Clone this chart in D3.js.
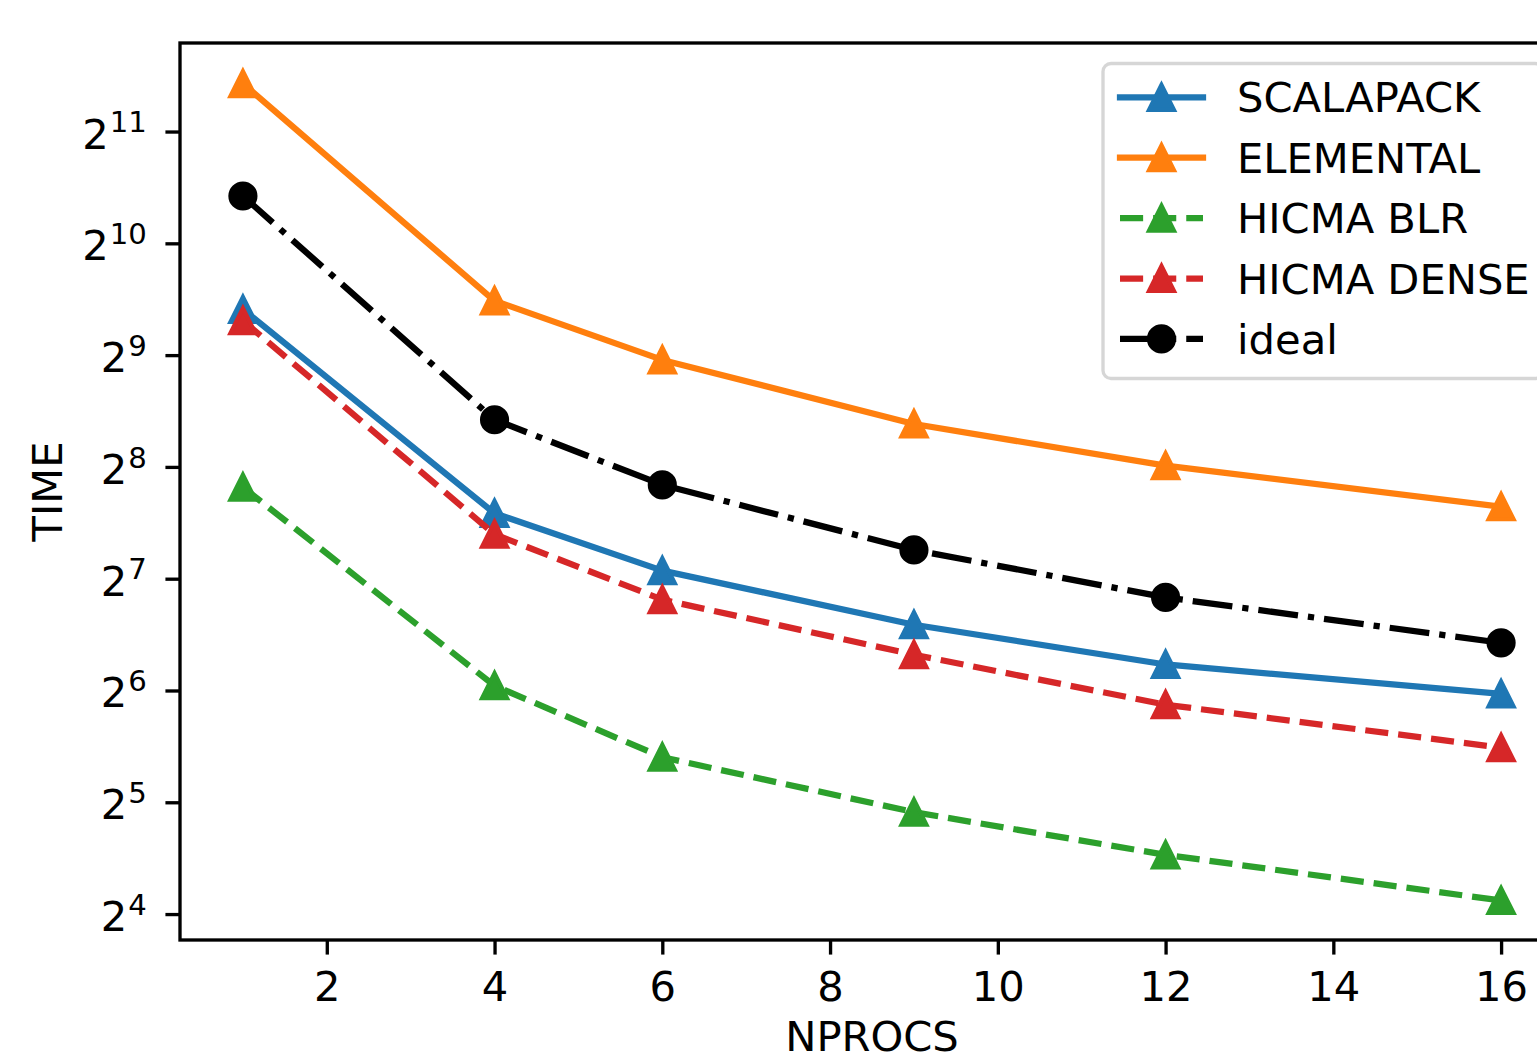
<!DOCTYPE html>
<html>
<head>
<meta charset="utf-8">
<script src="https://cdn.jsdelivr.net/npm/d3@7"></script>
<style>
  html, body { margin: 0; padding: 0; background: #ffffff; }
  svg { display: block; font-family: "DejaVu Sans", sans-serif; }
</style>
</head>
<body>
<svg id="chart" width="1537" height="1060"></svg>
<script>
// Strong-scaling timings (seconds) versus number of processes
const nprocs = [1, 4, 6, 9, 12, 16];
const scalapack  = [680, 192, 134.6, 96.2, 75.2, 62.7];
const elemental  = [2756, 717, 497, 334, 258, 200];
const hicmaBlr   = [225.7, 65.9, 42.3, 30.1, 23.1, 17.4];
const hicmaDense = [634, 168.6, 112.4, 79.9, 58.6, 44.9];
const ideal      = [1373, 343, 229, 153, 114, 86];

const seriesNames = ["SCALAPACK", "ELEMENTAL", "HICMA BLR", "HICMA DENSE", "ideal"];
const xTickValues = [2, 4, 6, 8, 10, 12, 14, 16];
const yTickExponents = [4, 5, 6, 7, 8, 9, 10, 11];

const pt = 300 / 72;              // figure rendered at 300 dpi
const fontSize = 10 * pt;
const lineW = 1.5 * pt;
const markerSize = 6 * pt;
const markerEdge = 1 * pt;
const spineW = 0.8 * pt;
const tickLen = 3.5 * pt;

const plot = { left: 180, right: 1564, top: 43, bottom: 940 };

const x = d3.scaleLinear().domain([0.25, 16.75]).range([plot.left, plot.right]);
const y = d3.scaleLog().base(2)
  .domain([Math.pow(2, 3.768), Math.pow(2, 11.792)])
  .range([plot.bottom, plot.top]);

const svg = d3.select("#chart");

const dashed = [3.7 * lineW, 1.6 * lineW];
const dashDot = [6.4 * lineW, 1.6 * lineW, 1 * lineW, 1.6 * lineW];

const series = [
  { name: seriesNames[0], values: scalapack,  color: "#1f77b4", dash: null,    marker: "triangle" },
  { name: seriesNames[1], values: elemental,  color: "#ff7f0e", dash: null,    marker: "triangle" },
  { name: seriesNames[2], values: hicmaBlr,   color: "#2ca02c", dash: dashed,  marker: "triangle" },
  { name: seriesNames[3], values: hicmaDense, color: "#d62728", dash: dashed,  marker: "triangle" },
  { name: seriesNames[4], values: ideal,      color: "#000000", dash: dashDot, marker: "circle" }
];

const half = markerSize / 2;
const trianglePath = `M0,${-half}L${-half},${half}L${half},${half}Z`;

function drawMarker(g, kind, color) {
  if (kind === "triangle") {
    g.append("path").attr("d", trianglePath)
      .attr("fill", color).attr("stroke", color)
      .attr("stroke-width", markerEdge).attr("stroke-linejoin", "miter");
  } else {
    g.append("circle").attr("r", half)
      .attr("fill", color).attr("stroke", color)
      .attr("stroke-width", markerEdge);
  }
}

const line = d3.line().x(d => x(d[0])).y(d => y(d[1]));

const dataLayer = svg.append("g");
series.forEach(s => {
  const pts = nprocs.map((n, i) => [n, s.values[i]]);
  const g = dataLayer.append("g");
  g.append("path")
    .attr("d", line(pts))
    .attr("fill", "none")
    .attr("stroke", s.color)
    .attr("stroke-width", lineW)
    .attr("stroke-linejoin", "round")
    .attr("stroke-linecap", s.dash ? "butt" : "square")
    .attr("stroke-dasharray", s.dash ? s.dash.join(",") : null);
  pts.forEach(p => {
    const m = g.append("g").attr("transform", `translate(${x(p[0])},${y(p[1])})`);
    drawMarker(m, s.marker, s.color);
  });
});

// axes frame (left, bottom, top spines; right spine lies past the page edge)
svg.append("rect")
  .attr("x", plot.left).attr("y", plot.top)
  .attr("width", plot.right - plot.left).attr("height", plot.bottom - plot.top)
  .attr("fill", "none").attr("stroke", "#000").attr("stroke-width", spineW)
  .attr("stroke-linejoin", "miter");

// x axis
const xAxis = svg.append("g")
  .attr("transform", `translate(0,${plot.bottom})`)
  .call(d3.axisBottom(x).tickValues(xTickValues).tickFormat(d3.format("d"))
    .tickSize(tickLen).tickSizeOuter(0).tickPadding(17));
xAxis.select(".domain").remove();
xAxis.selectAll(".tick line").attr("stroke", "#000").attr("stroke-width", spineW);
xAxis.selectAll(".tick text")
  .attr("font-family", "DejaVu Sans").attr("font-size", fontSize).attr("fill", "#000");

// y axis with powers of two written as 2^k
const yAxis = svg.append("g")
  .attr("transform", `translate(${plot.left},0)`)
  .call(d3.axisLeft(y).tickValues(yTickExponents.map(k => Math.pow(2, k)))
    .tickFormat(d => String(Math.round(Math.log2(d))))
    .tickSize(tickLen).tickSizeOuter(0).tickPadding(18.5));
yAxis.select(".domain").remove();
yAxis.selectAll(".tick line").attr("stroke", "#000").attr("stroke-width", spineW);
yAxis.selectAll(".tick text").each(function () {
  const t = d3.select(this);
  const exp = t.text();
  t.text(null).attr("dy", null).attr("y", 16.5)
    .attr("font-family", "DejaVu Sans").attr("fill", "#000");
  t.append("tspan").attr("font-size", fontSize).text("2");
  t.append("tspan").attr("font-size", fontSize * 0.7).attr("dx", 1).attr("dy", -16.3).text(exp);
});

// axis titles
svg.append("text")
  .attr("x", (plot.left + plot.right) / 2).attr("y", 1051)
  .attr("text-anchor", "middle").attr("font-size", fontSize).attr("fill", "#000")
  .text("NPROCS");
svg.append("text")
  .attr("transform", `translate(62,${(plot.top + plot.bottom) / 2}) rotate(-90)`)
  .attr("text-anchor", "middle").attr("font-size", fontSize).attr("fill", "#000")
  .text("TIME");

// legend
const legend = svg.append("g");
legend.append("rect")
  .attr("x", 1103).attr("y", 63.5)
  .attr("width", 440).attr("height", 315)
  .attr("rx", 8).attr("ry", 8)
  .attr("fill", "rgba(255,255,255,0.8)")
  .attr("stroke", "rgba(204,204,204,0.8)").attr("stroke-width", spineW);

series.forEach((s, i) => {
  const rowY = 97.3 + i * 60.4;
  const row = legend.append("g");
  row.append("path")
    .attr("d", `M1120,${rowY}L1203,${rowY}`)
    .attr("fill", "none")
    .attr("stroke", s.color).attr("stroke-width", lineW)
    .attr("stroke-linecap", s.dash ? "butt" : "square")
    .attr("stroke-dasharray", s.dash ? s.dash.join(",") : null);
  const m = row.append("g").attr("transform", `translate(1161.5,${rowY})`);
  drawMarker(m, s.marker, s.color);
  row.append("text")
    .attr("x", 1237).attr("y", rowY + 15)
    .attr("font-size", fontSize).attr("fill", "#000")
    .text(s.name);
});
</script>
</body>
</html>
